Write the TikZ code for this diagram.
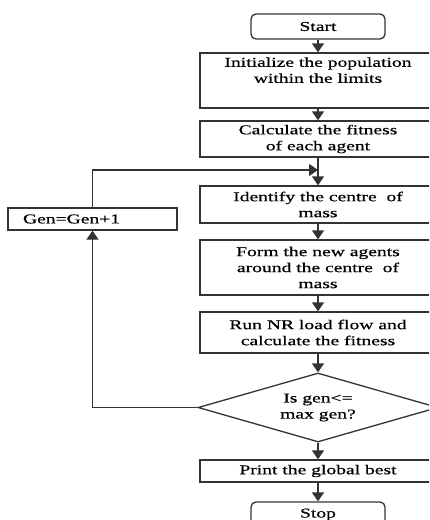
\documentclass[tikz,border=0pt]{standalone}
\usepackage{fontspec}
\setmainfont{Liberation Serif}[FakeStretch=1.45, FakeBold=0.6]
\usetikzlibrary{shapes.geometric,arrows.meta}

\tikzset{
    block/.style={draw=black!80, line width=1.3pt, inner sep=0pt, align=center,
        minimum width=236pt, font=\fontsize{13.5}{16}\selectfont},
    term/.style={block, rounded corners=5pt, minimum width=134pt, minimum height=25pt},
    decision/.style={block, diamond, aspect=3.5, minimum width=240pt, minimum height=69pt},
    flow/.style={draw=black!80, line width=1.3pt, -{Triangle[width=12pt,length=9pt]}}
}

\begin{document}
\begin{tikzpicture}[x=1pt, y=-1pt]
    \useasboundingbox (0,0) rectangle (429,520);
    \clip (0,0) rectangle (429,520);
    \fill[white] (0,0) rectangle (429,520);

    % main column
    \node[term] (start) at (318,26.5) {Start};
    \node[block, minimum height=55pt] (init) at (318,80.5) {Initialize the population\\within the limits\\ \strut};
    \node[block, minimum height=36pt] (fit) at (318,139) {Calculate the fitness\\of each agent};
    \node[block, minimum height=37pt] (centre) at (318,204.5) {Identify the centre\ \ of\\mass};
    \node[block, minimum height=55pt] (agents) at (318,267.5) {Form the new agents\\around the centre\ \ of\\mass};
    \node[block, minimum height=41pt] (nrlf) at (318,332.5) {Run NR load flow and\\calculate the fitness};
    \node[decision] (test) at (318,407.5) {Is gen<=\\max gen?};
    \node[block, minimum height=22pt] (best) at (318,471) {Print the global best};
    \node[term] (stop) at (318,514.5) {Stop};

    % generation counter
    \node[block, minimum width=169pt, minimum height=22pt, text width=139pt,
        inner xsep=15pt, align=left] (gen) at (92.5,219) {Gen=Gen+1};
    \coordinate (join) at (318,170);

    \draw[flow] (start) -- (init);
    \draw[flow] (init) -- (fit);
    \draw[flow] (fit) -- (centre);
    \draw[flow] (centre) -- (agents);
    \draw[flow] (agents) -- (nrlf);
    \draw[flow] (nrlf) -- (test);
    \draw[flow] (test) -- (best);
    \draw[flow] (best) -- (stop);
    \draw[flow] (test.west) -| (gen.south);
    \draw[flow] (gen.north) |- (join);
\end{tikzpicture}
\end{document}
